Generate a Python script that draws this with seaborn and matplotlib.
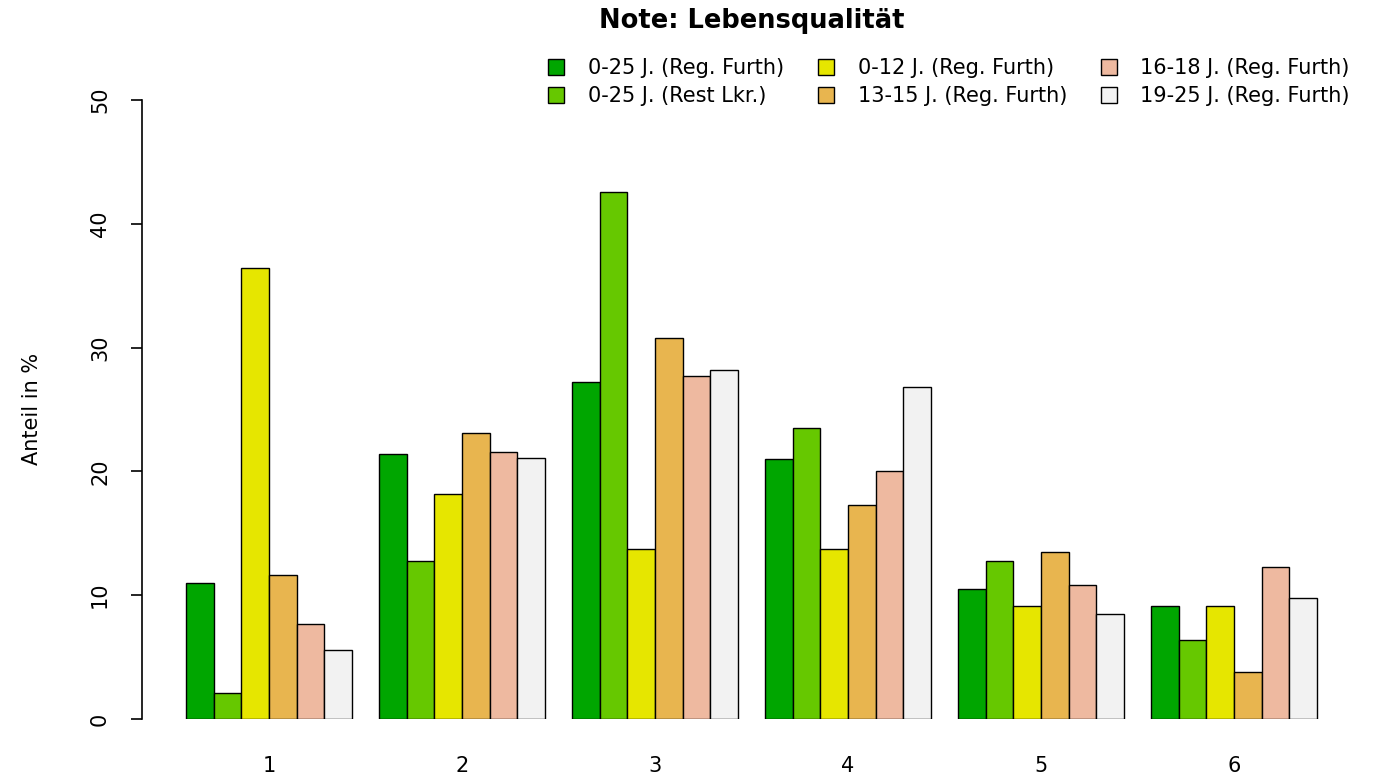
import seaborn as sns
import pandas as pd
import matplotlib.pyplot as plt
from matplotlib.patches import Patch

# Daten
noten = ["1", "2", "3", "4", "5", "6"]
gruppen = ["0-25 J. (Reg. Furth)", "0-25 J. (Rest Lkr.)", "0-12 J. (Reg. Furth)",
           "13-15 J. (Reg. Furth)", "16-18 J. (Reg. Furth)", "19-25 J. (Reg. Furth)"]
g_0_25_furth = [11.0, 21.4, 27.2, 21.0, 10.5, 9.1]
g_0_25_rest = [2.1, 12.8, 42.6, 23.5, 12.8, 6.4]
g_0_12 = [36.4, 18.2, 13.7, 13.7, 9.1, 9.1]
g_13_15 = [11.6, 23.1, 30.8, 17.3, 13.5, 3.8]
g_16_18 = [7.7, 21.6, 27.7, 20.0, 10.8, 12.3]
g_19_25 = [5.6, 21.1, 28.2, 26.8, 8.5, 9.8]
farben = ["#00A600", "#66C800", "#E6E600", "#E8B54F", "#EEB9A0", "#F2F2F2"]

werte = [g_0_25_furth, g_0_25_rest, g_0_12, g_13_15, g_16_18, g_19_25]
df = pd.DataFrame({
    "Note": [n for w in werte for n in noten],
    "Gruppe": [g for g, w in zip(gruppen, werte) for _ in w],
    "Anteil": [v for w in werte for v in w],
})

sns.set_theme(style="white")
plt.rcParams["font.family"] = ["DejaVu Sans"]
plt.rcParams["text.color"] = "black"
plt.rcParams["xtick.color"] = "black"
plt.rcParams["ytick.color"] = "black"

fig = plt.figure(figsize=(13.79, 7.79), dpi=100)
ax = fig.add_axes([142 / 1379, 60 / 779, 1220 / 1379, 619 / 779])

sns.barplot(data=df, x="Note", y="Anteil", hue="Gruppe", hue_order=gruppen,
            palette=farben, saturation=1, width=6 / 7, edgecolor="black",
            linewidth=1.0, legend=False, ax=ax)

ax.set_xlim(-0.658, 5.663)
ax.set_ylim(0, 50)
ax.set_yticks([0, 10, 20, 30, 40, 50])
ax.set_yticklabels(["0", "10", "20", "30", "40", "50"], rotation=90, va="center", fontsize=15)
ax.tick_params(axis="y", length=8, width=1.2, direction="out", left=True, pad=15)
ax.tick_params(axis="x", length=0, labelsize=15, pad=27)
for s in ["top", "right", "bottom"]:
    ax.spines[s].set_visible(False)
ax.spines["left"].set_color("black")
ax.spines["left"].set_linewidth(1.2)
ax.set_xlabel("")
ax.set_ylabel("")
fig.text(32 / 1379, 1 - 409 / 779, "Anteil in %", rotation=90, ha="center",
         va="center", fontsize=15)

fig.text(752 / 1379, 1 - 28 / 779, "Note: Lebensqualität", ha="center",
         va="baseline", fontsize=18.5, fontweight="bold")

handles = [Patch(facecolor=c, edgecolor="black", linewidth=1.0) for c in farben]
fig.legend(handles, gruppen, ncol=3, frameon=False, loc="upper right",
           bbox_to_anchor=(1350 / 1379, 1 - 58 / 779), fontsize=15,
           borderaxespad=0, borderpad=0,
           handlelength=0.77, handleheight=0.77, handletextpad=1.15,
           columnspacing=1.6, labelspacing=0.4)

fig.savefig("out.png", dpi=100)
